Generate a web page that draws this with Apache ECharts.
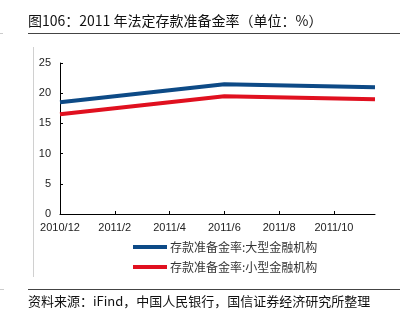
<!DOCTYPE html>
<html>
<head>
<meta charset="utf-8">
<style>
  html, body { margin: 0; padding: 0; background: #fff; }
  #chart { width: 400px; height: 329px; }
</style>
<script src="https://cdn.jsdelivr.net/npm/echarts@6/dist/echarts.min.js"></script>
</head>
<body>
<div id="chart"></div>
<script>
// Months counted from 2010/12 (0) onward
const months = [0, 1, 2, 3, 4, 5, 6, 11.5];
const largeInst = [18.5, 19, 19.5, 20, 20.5, 21, 21.5, 21];
const smallInst = [16.5, 17, 17.5, 18, 18.5, 19, 19.5, 19];
const tickMonths = [0, 2, 4, 6, 8, 10];
const tickLabels = ['2010/12', '2011/2', '2011/4', '2011/6', '2011/8', '2011/10'];
const seriesNames = ['存款准备金率:大型金融机构', '存款准备金率:小型金融机构'];

const font = '"Noto Sans CJK SC", "Noto Sans", sans-serif';
const numFont = '"Liberation Sans", Arial, sans-serif';
const chart = echarts.init(document.getElementById('chart'), null, { renderer: 'canvas' });

const pairs = (ys) => months.map((m, i) => [m, ys[i]]);

chart.setOption({
  animation: false,
  textStyle: { fontFamily: font },
  grid: { left: 60, right: 25, top: 63, bottom: 115 },
  xAxis: {
    type: 'value',
    min: 0,
    max: 11.5,
    axisLine: { lineStyle: { color: '#000', width: 1 } },
    axisTick: { inside: true, length: 3, customValues: tickMonths, lineStyle: { color: '#000' } },
    axisLabel: {
      customValues: tickMonths,
      formatter: (v) => tickLabels[tickMonths.indexOf(v)] || '',
      color: '#222', fontSize: 11, fontFamily: numFont, margin: 8
    },
    splitLine: { show: false }
  },
  yAxis: {
    type: 'value',
    min: 0,
    max: 25,
    interval: 5,
    axisLine: { show: true, lineStyle: { color: '#000', width: 1 } },
    axisTick: { show: true, inside: true, length: 3, lineStyle: { color: '#000' } },
    axisLabel: { color: '#222', fontSize: 11, fontFamily: numFont, margin: 9 },
    splitLine: { show: false }
  },
  legend: {
    orient: 'vertical',
    left: 133,
    top: 240,
    padding: 0,
    icon: 'rect',
    itemWidth: 34,
    itemHeight: 4,
    itemGap: 6,
    textStyle: { color: '#333', fontSize: 12, fontFamily: font, lineHeight: 14, padding: [0, 0, 0, -2] },
    data: seriesNames
  },
  series: [
    {
      name: seriesNames[0], type: 'line', data: pairs(largeInst),
      showSymbol: false, symbol: 'none',
      lineStyle: { color: '#0d4a86', width: 4 }, itemStyle: { color: '#0d4a86' }
    },
    {
      name: seriesNames[1], type: 'line', data: pairs(smallInst),
      showSymbol: false, symbol: 'none',
      lineStyle: { color: '#e0101f', width: 4 }, itemStyle: { color: '#e0101f' }
    }
  ],
  graphic: [
    { type: 'text', left: 28, top: 14,
      style: { text: '图106：2011 年法定存款准备金率（单位：%）', font: '14px ' + font, fill: '#111' } },
    { type: 'line', shape: { x1: 28, y1: 33.5, x2: 400, y2: 33.5 }, style: { stroke: '#444', lineWidth: 1 } },
    { type: 'line', shape: { x1: 33.5, y1: 47, x2: 33.5, y2: 277 }, style: { stroke: '#d0d0d0', lineWidth: 1 } },
    { type: 'line', shape: { x1: 0, y1: 33.5, x2: 3, y2: 33.5 }, style: { stroke: '#ccc', lineWidth: 1 } },
    { type: 'line', shape: { x1: 0, y1: 289.5, x2: 4, y2: 289.5 }, style: { stroke: '#ccc', lineWidth: 1 } },
    { type: 'line', shape: { x1: 28, y1: 289.5, x2: 400, y2: 289.5 }, style: { stroke: '#444', lineWidth: 1 } },
    { type: 'text', left: 28, top: 295,
      style: { text: '资料来源：iFind，中国人民银行，国信证券经济研究所整理', font: '13px ' + font, fill: '#111' } }
  ]
});
</script>
</body>
</html>
